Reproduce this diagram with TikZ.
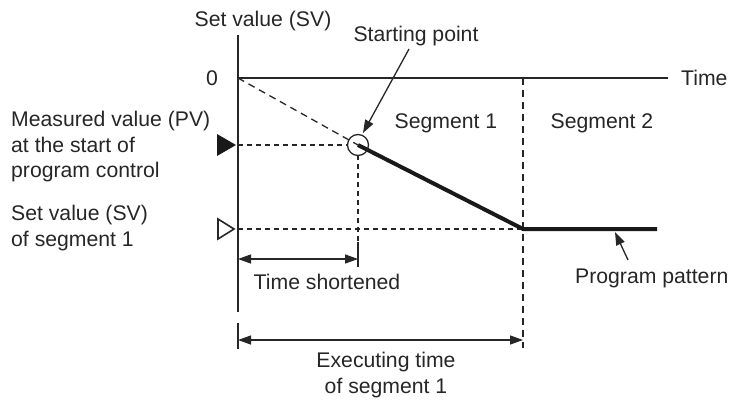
\documentclass[tikz,border=0pt]{standalone}
\usepackage{fontspec}
\setmainfont{Liberation Sans}
\usetikzlibrary{arrows.meta}
\begin{document}
\begin{tikzpicture}[x=1pt,y=-1pt,
  lbl/.style={font=\fontsize{21.2}{25.5}\selectfont, inner sep=0pt, text=black!85},
  thin/.style={line width=1.3pt, draw=black!85},
  thick/.style={line width=4pt, draw=black!90},
  dsh/.style={thin, dash pattern=on 7pt off 5pt},
  dimarrow/.style={thin, {Triangle[length=13pt,width=9pt]}-{Triangle[length=13pt,width=9pt]}},
  ptr/.style={thin, -{Triangle[length=13pt,width=9pt]}}]
\useasboundingbox (0,0) rectangle (729,400);
% axes
\coordinate (O) at (238,78);
\coordinate (ytop) at (238,35);
\coordinate (ybot) at (238,312);
\coordinate (xend) at (668,78);
\draw[thin] (ytop) -- (ybot);
\draw[thin] (O) -- (xend);
\node[lbl] (sv) at (263,21) {Set value (SV)};
\node[lbl] (zero) at (212,78) {0};
\node[lbl, anchor=west] (time) at (681,78) {Time};
% key points
\coordinate (S) at (358,145);
\coordinate (E) at (523,229);
\coordinate (F) at (657,229);
\coordinate (pvL) at (238,145);
\coordinate (svL) at (238,229);
\coordinate (Sdown) at (358,242);
\coordinate (Etop) at (523,78);
\coordinate (Ebot) at (523,348);
% dashed construction lines
\draw[dsh] (O) -- (S);
\draw[thin, dash pattern=on 5pt off 4pt] (pvL) -- (348,145);
\draw[thin, dash pattern=on 5pt off 4pt] (svL) -- (E);
\draw[thin, dash pattern=on 5pt off 4pt] (358,155) -- (Sdown);
\draw[dsh] (Etop) -- (Ebot);
% program pattern
\draw[thick, line join=miter] (S) -- (E) -- (F);
\node[draw=black!85, line width=1.3pt, circle, minimum size=21pt, inner sep=0pt] (circ) at (S) {};
% markers
\fill[black!90] (217,134) -- (236,145) -- (217,156) -- cycle;
\draw[thin, line width=1.6pt, line join=miter] (218,219) -- (234,229) -- (218,239) -- cycle;
% labels left
\node[lbl, anchor=west, align=left] (pv) at (11,147) {Measured value (PV)\\at the start of\\program control};
\node[lbl, anchor=west, align=left] (svseg) at (11,228) {Set value (SV)\\of segment 1};
% starting point
\node[lbl] (start) at (416,36) {Starting point};
\coordinate (sa) at (409,49);
\coordinate (sb) at (363,133);
\draw[ptr] (sa) -- (sb);
\node[lbl] (seg1) at (446,123) {Segment 1};
\node[lbl] (seg2) at (602,123) {Segment 2};
% program pattern label
\node[lbl, anchor=west] (pp) at (575,278) {Program pattern};
\coordinate (pa) at (628,260);
\coordinate (pb) at (615,232);
\draw[ptr] (pa) -- (pb);
% time shortened
\draw[thin] (358,242) -- (358,267);
\draw[dimarrow] (238,259) -- (358,259);
\node[lbl] (tsl) at (327,282) {Time shortened};
% executing time
\draw[thin] (238,323) -- (238,349);
\draw[dimarrow] (238,340) -- (523,340);
\node[lbl, align=center] (exe) at (386,375) {Executing time\\of segment 1};
\end{tikzpicture}
\end{document}
